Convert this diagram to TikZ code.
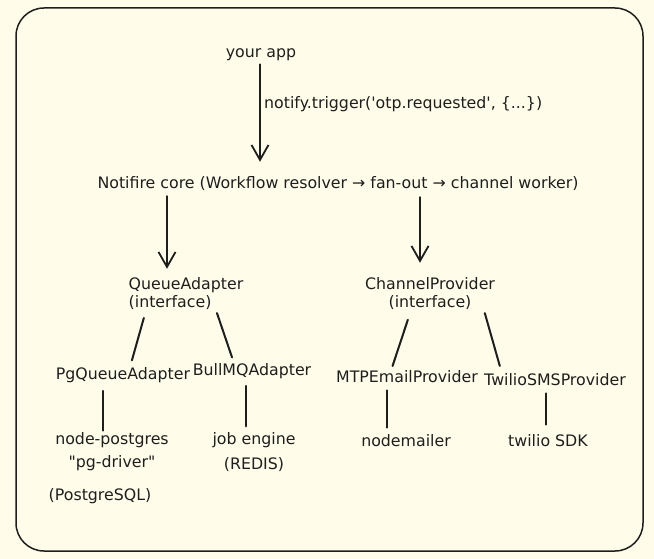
\documentclass[tikz,border=0pt]{standalone}
\usepackage{fontspec}
\setmainfont{DejaVu Sans}[Ligatures=TeXOff]
\usetikzlibrary{arrows.meta}
\definecolor{bgcol}{HTML}{FFFDE9}
\definecolor{ink}{HTML}{1E1E1E}
\tikzset{
  lbl/.style={inner sep=0pt, text=ink, font=\fontsize{15.8}{18}\selectfont},
  arr/.style={draw=ink, line width=2pt, line cap=round, -{Straight Barb[length=15pt,width=17pt,line width=1.8pt]}},
  conn/.style={draw=ink, line width=2pt, line cap=round},
}
\begin{document}
\begin{tikzpicture}[x=1pt,y=-1pt]
\fill[bgcol] (0,0) rectangle (654,559);
\useasboundingbox (0,0) rectangle (654,559);
\draw[ink, line width=1.5pt, rounded corners=28pt] (16,8) rectangle (643,551);

\node[lbl] (app) at (261,55) {your app};
\node[lbl, anchor=west] (trig) at (264,104) {notify.trigger('otp.requested', \{...\})};
\node[lbl] (core) at (338,184) {Notifire core (Workflow resolver → fan-out → channel worker)};
\node[lbl, align=left] (qa) at (186,294) {QueueAdapter\\(interface)};
\node[lbl, align=center] (cp) at (430,294) {ChannelProvider\\(interface)};
\node[lbl] (pg) at (123,375) {PgQueueAdapter};
\node[lbl] (bull) at (252,371) {BullMQAdapter};
\node[lbl] (mtp) at (407,377) {MTPEmailProvider};
\node[lbl] (twl) at (555,380) {TwilioSMSProvider};
\node[lbl, align=center, font=\fontsize{15.8}{23}\selectfont] (npg) at (112,452) {node-postgres\\"pg-driver"};
\node[lbl] (psql) at (100,496) {(PostgreSQL)};
\node[lbl, align=center, font=\fontsize{15.8}{25}\selectfont] (job) at (254,452) {job engine\\(REDIS)};
\node[lbl] (nm) at (406,441) {nodemailer};
\node[lbl] (sdk) at (548,441) {twilio SDK};

\draw[arr, shorten <=3pt, shorten >=15pt] ([xshift=-1pt]app.south) -- ([xshift=-78pt]core.north);
\draw[arr, shorten <=5pt, shorten >=9pt] ([xshift=-171pt]core.south) -- ([xshift=-19pt]qa.north);
\draw[arr, shorten <=6pt, shorten >=15pt] ([xshift=82pt]core.south) -- ([xshift=-10pt]cp.north);

\draw[conn, shorten <=8pt, shorten >=7pt] ([xshift=-40pt]qa.south) -- ([xshift=7pt]pg.north);
\draw[conn, shorten <=3pt, shorten >=6pt] ([xshift=30pt]qa.south) -- ([xshift=-18pt]bull.north);
\draw[conn, shorten <=10pt, shorten >=5pt] ([xshift=-19pt]cp.south) -- ([xshift=-16pt]mtp.north);
\draw[conn, shorten <=3pt, shorten >=8pt] ([xshift=54pt]cp.south) -- ([xshift=-53pt]twl.north);

\draw[conn, shorten <=8pt, shorten >=2pt] ([xshift=-20pt]pg.south) -- ([xshift=-9pt]npg.north);
\draw[conn, shorten <=7pt, shorten >=6pt] ([xshift=-6pt]bull.south) -- ([xshift=-8pt]job.north);
\draw[conn, shorten <=7pt, shorten >=7pt] ([xshift=-20pt]mtp.south) -- ([xshift=-19pt]nm.north);
\draw[conn, shorten <=7pt, shorten >=10pt] ([xshift=-9pt]twl.south) -- ([xshift=-2pt]sdk.north);
\end{tikzpicture}
\end{document}
